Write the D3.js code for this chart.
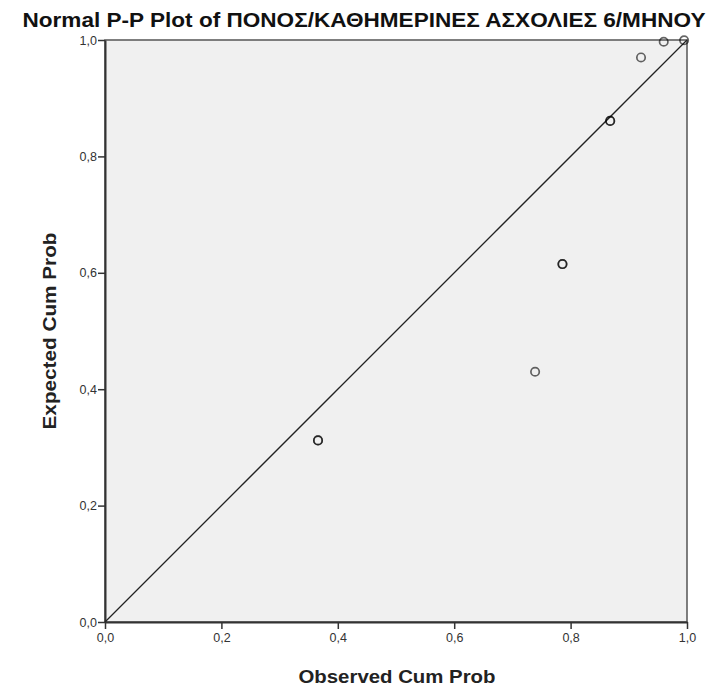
<!DOCTYPE html>
<html>
<head>
<meta charset="utf-8">
<script src="https://cdn.jsdelivr.net/npm/d3@7"></script>
<style>
	body { margin: 0; background: #fff; }
	text { font-family: "Liberation Sans", Arial, sans-serif; }
</style>
</head>
<body>
<div id="chartDiv"></div>
<script>
// observed / expected cumulative probabilities, and how many cases sit on each point
var observed = [0.366, 0.739, 0.786, 0.868, 0.921, 0.960, 0.995];
var expected = [0.312, 0.430, 0.615, 0.861, 0.970, 0.997, 0.9995];
var counts   = [2, 1, 2, 2, 1, 1, 1];
var tickValues = [0, 0.2, 0.4, 0.6, 0.8, 1.0];

var titleText = "Normal P-P Plot of ΠΟΝΟΣ/ΚΑΘΗΜΕΡΙΝΕΣ ΑΣΧΟΛΙΕΣ 6/ΜΗΝΟΥ";

var margin = {top: 40, right: 22, bottom: 66, left: 105},
    width = 709 - margin.left - margin.right,
    height = 688 - margin.top - margin.bottom;

var x = d3.scaleLinear().domain([0, 1]).range([0, width]);
var y = d3.scaleLinear().domain([0, 1]).range([height, 0]);

var fmt = function(d) { return d3.format(".1f")(d).replace(".", ","); };

var svg = d3.select("#chartDiv").append("svg")
	.attr("width", 709)
	.attr("height", 688);

svg.append("text")
	.attr("x", 364)
	.attr("y", 27)
	.attr("text-anchor", "middle")
	.attr("font-size", "20px")
	.attr("font-weight", "bold")
	.attr("fill", "#111")
	.attr("textLength", 683)
	.attr("lengthAdjust", "spacingAndGlyphs")
	.text(titleText);

var g = svg.append("g")
	.attr("transform", "translate(" + margin.left + "," + margin.top + ")");

// plot background
g.append("rect")
	.attr("width", width)
	.attr("height", height)
	.attr("fill", "#f0f0f0")
	.attr("stroke", "#555")
	.attr("stroke-width", 1.5);

// axes
var xAxis = g.append("g")
	.attr("transform", "translate(0," + height + ")")
	.call(d3.axisBottom(x).tickValues(tickValues).tickFormat(fmt).tickSize(7).tickSizeOuter(0).tickPadding(4));
var yAxis = g.append("g")
	.call(d3.axisLeft(y).tickValues(tickValues).tickFormat(fmt).tickSize(7).tickSizeOuter(0).tickPadding(1));

[xAxis, yAxis].forEach(function(a) {
	a.select(".domain").attr("stroke", "#333").attr("stroke-width", 2);
	a.selectAll(".tick line").attr("stroke", "#333").attr("stroke-width", 1.5);
	a.selectAll(".tick text")
		.attr("fill", "#333")
		.attr("font-size", "12.5px")
		.style("font-family", "'Liberation Sans', Arial, sans-serif");
});

// reference diagonal
g.append("line")
	.attr("x1", x(0)).attr("y1", y(0))
	.attr("x2", x(1)).attr("y2", y(1))
	.attr("stroke", "#222")
	.attr("stroke-width", 1.3);

// points: repeated cases are drawn over each other, like SPSS does
var pts = [];
observed.forEach(function(d, i) {
	for (var k = 0; k < counts[i]; k++) pts.push({o: d, e: expected[i]});
});

g.selectAll(".pt")
	.data(pts)
	.enter().append("circle")
	.attr("class", "pt")
	.attr("cx", function(d) { return x(d.o); })
	.attr("cy", function(d) { return y(d.e); })
	.attr("r", 4.2)
	.attr("fill", "none")
	.attr("stroke", "#000")
	.attr("stroke-opacity", 0.6)
	.attr("stroke-width", 1.7);

// axis titles
svg.append("text")
	.attr("x", 397)
	.attr("y", 683)
	.attr("text-anchor", "middle")
	.attr("font-size", "18px")
	.attr("font-weight", "bold")
	.attr("fill", "#222")
	.attr("textLength", 197)
	.attr("lengthAdjust", "spacingAndGlyphs")
	.text("Observed Cum Prob");

svg.append("text")
	.attr("transform", "translate(56,331) rotate(-90)")
	.attr("text-anchor", "middle")
	.attr("font-size", "18px")
	.attr("font-weight", "bold")
	.attr("fill", "#222")
	.attr("textLength", 197)
	.attr("lengthAdjust", "spacingAndGlyphs")
	.text("Expected Cum Prob");
</script>
</body>
</html>
